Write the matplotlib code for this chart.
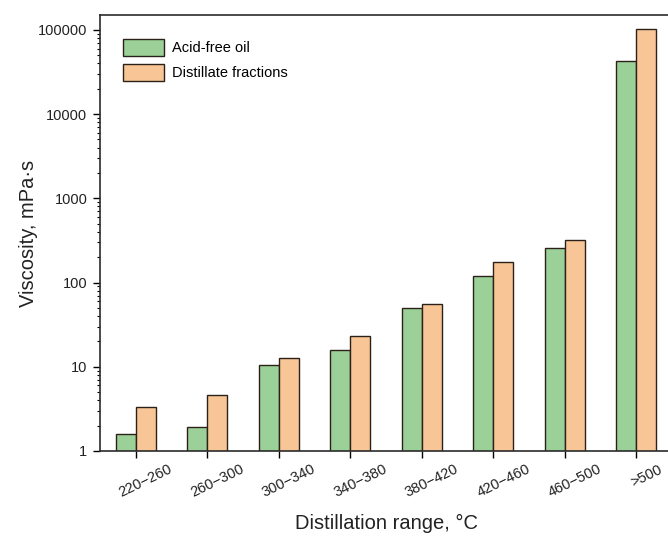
import numpy as np
import matplotlib
matplotlib.use("Agg")
import matplotlib.pyplot as plt
from matplotlib.ticker import LogLocator, FixedLocator, FixedFormatter, NullFormatter

plt.rcParams['font.family'] = ['Liberation Sans', 'DejaVu Sans']

categories = ['220\u2212260', '260\u2212300', '300\u2212340', '340\u2212380',
              '380\u2212420', '420\u2212460', '460\u2212500', '>500']
acid_free_oil = [1.6, 1.95, 10.5, 15.8, 50, 119, 256, 43000]
distillate = [3.3, 4.6, 12.7, 23, 55, 175, 320, 102000]
y_ticks = [1, 10, 100, 1000, 10000, 100000]

fig = plt.figure(figsize=(6.68, 5.36), dpi=100)
ax = fig.add_axes([0.1497, 0.1586, 0.8563, 0.8134])

x = np.arange(len(categories))
w = 0.28
ax.bar(x - w / 2, acid_free_oil, w, color='#9bd098', edgecolor='#2b2118',
       linewidth=1.0, label='Acid-free oil', zorder=2)
ax.bar(x + w / 2, distillate, w, color='#f8c696', edgecolor='#2b2118',
       linewidth=1.0, label='Distillate fractions', zorder=2)

ax.set_yscale('log')
ax.set_ylim(1, 150000)
ax.set_xlim(-0.5, 7.5)
ax.yaxis.set_major_locator(FixedLocator(y_ticks))
ax.yaxis.set_major_formatter(FixedFormatter([str(t) for t in y_ticks]))
ax.yaxis.set_minor_locator(LogLocator(base=10, subs=np.arange(2, 10), numticks=20))
ax.yaxis.set_minor_formatter(NullFormatter())

# tick marks on the group centres, slanted labels carried by invisible
# minor ticks sitting slightly to the right
ax.xaxis.set_major_locator(FixedLocator(x))
ax.xaxis.set_major_formatter(NullFormatter())
ax.xaxis.set_minor_locator(FixedLocator(x + 0.14))
ax.xaxis.set_minor_formatter(FixedFormatter(categories))
for lbl in ax.get_xticklabels(minor=True):
    lbl.set_rotation(26)
    lbl.set_ha('center')

ax.tick_params(axis='y', which='major', length=5, width=1.0, labelsize=10.5,
               pad=4, labelcolor='#222222')
ax.tick_params(axis='y', which='minor', length=2.5, width=0.8)
ax.tick_params(axis='x', which='major', length=5, width=1.0)
ax.tick_params(axis='x', which='minor', length=0, pad=8, labelsize=10.5,
               labelcolor='#222222')

for sp in ax.spines.values():
    sp.set_linewidth(1.2)
    sp.set_color('#2b2b2b')

ax.set_ylabel('Viscosity, mPa\u00b7s', fontsize=14.5, labelpad=0, color='#222222')
ax.set_xlabel('Distillation range, \u00b0C', fontsize=14.5, labelpad=10,
              color='#222222')

ax.legend(loc='upper left', frameon=False, fontsize=10.5,
          handlelength=2.8, handleheight=1.4, handletextpad=0.55,
          labelspacing=0.55, bbox_to_anchor=(0.018, 0.975))

fig.savefig('out.png', dpi=100)
